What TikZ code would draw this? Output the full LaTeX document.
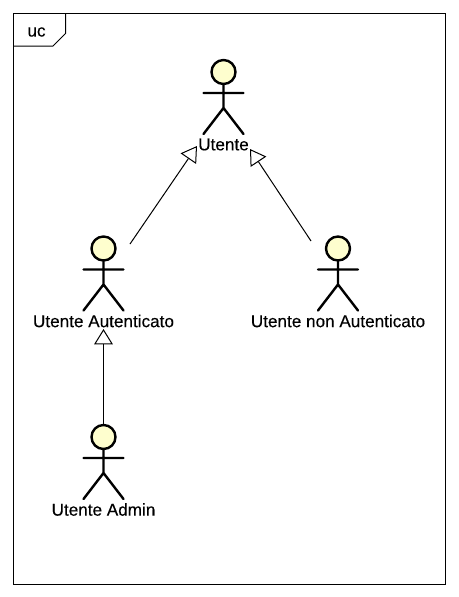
\documentclass[tikz,border=0pt]{standalone}
\usepackage{fontspec}
\setmainfont[FakeBold=0.25,AutoFakeBold=0.25]{Liberation Sans}
\usetikzlibrary{arrows.meta}
\definecolor{actorfill}{HTML}{FEFECE}
\tikzset{
	frame line/.style={line width=0.75pt},
	small label/.style={font=\fontsize{12.85pt}{14pt}\selectfont\bfseries},
	generalize/.style={line width=0.75pt,-{Triangle[open,length=11.5pt,width=14pt,fill=white]}},
	pics/actor/.style={code={
		\draw[line width=1.8pt,line cap=round] (0,13) -- (0,36) (-20,21) -- (20,21) (-20,62) -- (0,36) -- (20,62);
		\node[circle,draw,line width=1.8pt,fill=actorfill,minimum size=18pt,inner sep=0pt] (-head) at (0,0) {};
		\node[small label,inner sep=0pt] (-label) at (0,72.5) {#1};
	}}
}

\begin{document}
\begin{tikzpicture}[x=0.75pt,y=-0.75pt]
	\useasboundingbox (0,0) rectangle (458,597);
	\coordinate (NW) at (13.5,13.5);
	\coordinate (SE) at (445.5,584.5);
	\draw[frame line] (NW) rectangle (SE);
	\draw[frame line] (13.5,46) -- (53,46) -- (65.5,33.5) -- (65.5,13.5);
	\node[small label,inner sep=0pt] (diagram) at (36.5,32) {uc};
	\pic (utente) at (223.5,72) {actor=Utente};
	\pic (auth) at (103.5,248.5) {actor={Utente Autenticato}};
	\pic (guest) at (338,248.5) {actor={Utente non Autenticato}};
	\pic (admin) at (103.5,437) {actor={Utente Admin}};
	\coordinate (authStart) at (130,244);
	\coordinate (authEnd) at (197,146);
	\coordinate (guestStart) at (311,241);
	\coordinate (guestEnd) at (250,149);
	\coordinate (adminStart) at (103.5,424);
	\coordinate (adminEnd) at (103.5,329);
	\draw[generalize] (authStart) -- (authEnd);
	\draw[generalize] (guestStart) -- (guestEnd);
	\draw[generalize] (adminStart) -- (adminEnd);
\end{tikzpicture}
\end{document}
